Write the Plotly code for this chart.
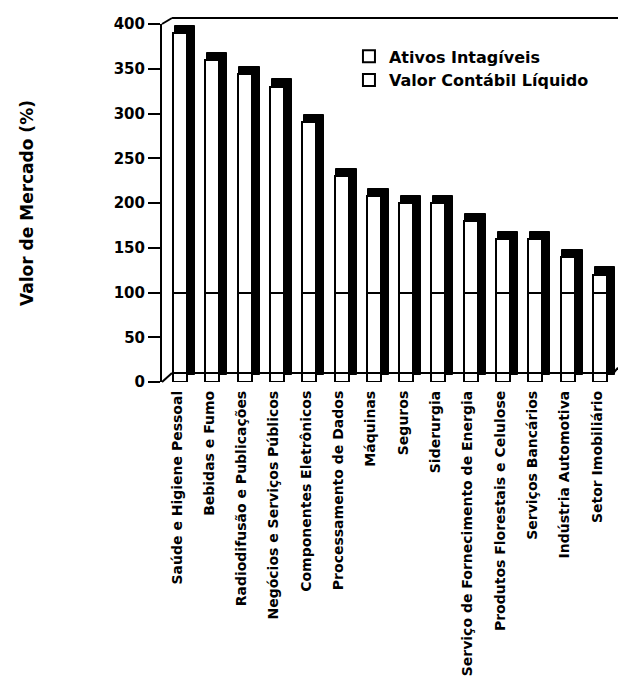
import plotly.graph_objects as go

# Sectors and market value relative to book value (%)
setores = [
    "Saúde e Higiene Pessoal",
    "Bebidas e Fumo",
    "Radiodifusão e Publicações",
    "Negócios e Serviços Públicos",
    "Componentes Eletrônicos",
    "Processamento de Dados",
    "Máquinas",
    "Seguros",
    "Siderurgia",
    "Serviço de Fornecimento de Energia",
    "Produtos Florestais e Celulose",
    "Serviços Bancários",
    "Indústria Automotiva",
    "Setor Imobiliário",
]
valor_mercado = [390, 360, 344, 330, 290, 230, 208, 200, 200, 180, 160, 160, 140, 120]
valor_contabil = [100] * len(setores)
ativos_intangiveis = [v - b for v, b in zip(valor_mercado, valor_contabil)]

y_ticks = [0, 50, 100, 150, 200, 250, 300, 350, 400]

FONT = "DejaVu Sans"
x_idx = list(range(len(setores)))

# pseudo-3D column geometry (category units / value units)
front_offset = -0.124
front_width = 0.433
depth_dx = 0.248
depth_dy = 8

fig = go.Figure()

# dark side and top faces of the columns, raised behind the front face
fig.add_trace(go.Bar(
    x=x_idx, y=valor_mercado, base=[depth_dy] * len(setores),
    offset=front_offset + 0.05, width=front_width + depth_dx - 0.05,
    marker=dict(color="black", line=dict(color="black", width=1)),
    showlegend=False, hoverinfo="skip",
))

fig.add_trace(go.Bar(
    x=x_idx, y=ativos_intangiveis, base=valor_contabil,
    offset=front_offset, width=front_width,
    name="Ativos Intagíveis",
    marker=dict(color="white", line=dict(color="black", width=2)),
))

fig.add_trace(go.Bar(
    x=x_idx, y=valor_contabil, base=[0] * len(setores),
    offset=front_offset, width=front_width,
    name="Valor Contábil Líquido",
    marker=dict(color="white", line=dict(color="black", width=2)),
))

# frame of the 3D box: back top edge, floor edge, and corner diagonals
frame = dict(color="black", width=2)
shapes = [
    dict(type="line", xref="paper", yref="paper", x0=0, y0=1, x1=0.022, y1=1.0168, line=frame),
    dict(type="line", xref="paper", yref="paper", x0=0.022, y0=1.0168, x1=1.0, y1=1.0168, line=frame),
    dict(type="line", xref="paper", yref="paper", x0=0, y0=0, x1=0.022, y1=0.025, line=frame),
    dict(type="line", xref="paper", yref="paper", x0=0.022, y0=0.025, x1=0.99, y1=0.025, line=frame),
    dict(type="line", xref="paper", yref="paper", x0=0.99, y0=0.025, x1=1.0, y1=0.04, line=frame),
]

fig.update_layout(
    width=618, height=687,
    margin=dict(l=162, r=0, t=24, b=305, autoexpand=False),
    paper_bgcolor="white", plot_bgcolor="white",
    barmode="overlay",
    bargap=0,
    font=dict(family=FONT, color="black", weight="bold"),
    shapes=shapes,
    legend=dict(
        x=0.41, y=0.957, xanchor="left", yanchor="top",
        font=dict(family=FONT, size=16, color="black", weight="bold"),
        bgcolor="rgba(0,0,0,0)", borderwidth=0,
        traceorder="normal", itemwidth=30,
        tracegroupgap=0,
    ),
    xaxis=dict(
        range=[-0.464, 13.65],
        tickmode="array", tickvals=x_idx, ticktext=setores,
        tickangle=-90, ticks="", showline=False, showgrid=False, zeroline=False,
        tickfont=dict(family=FONT, size=14, color="black", weight="bold"),
        ticklabelstandoff=5, automargin=False,
    ),
    yaxis=dict(
        range=[0, 400],
        tickmode="array", tickvals=y_ticks,
        ticks="outside", ticklen=12, tickwidth=2, tickcolor="black",
        showline=True, linewidth=2, linecolor="black",
        showgrid=False, zeroline=False, automargin=False,
        tickfont=dict(family=FONT, size=15, color="black", weight="bold"),
        title=dict(text="Valor de Mercado (%)", standoff=76,
                   font=dict(family=FONT, size=17, color="black", weight="bold")),
    ),
)

fig.write_html("out.html")
